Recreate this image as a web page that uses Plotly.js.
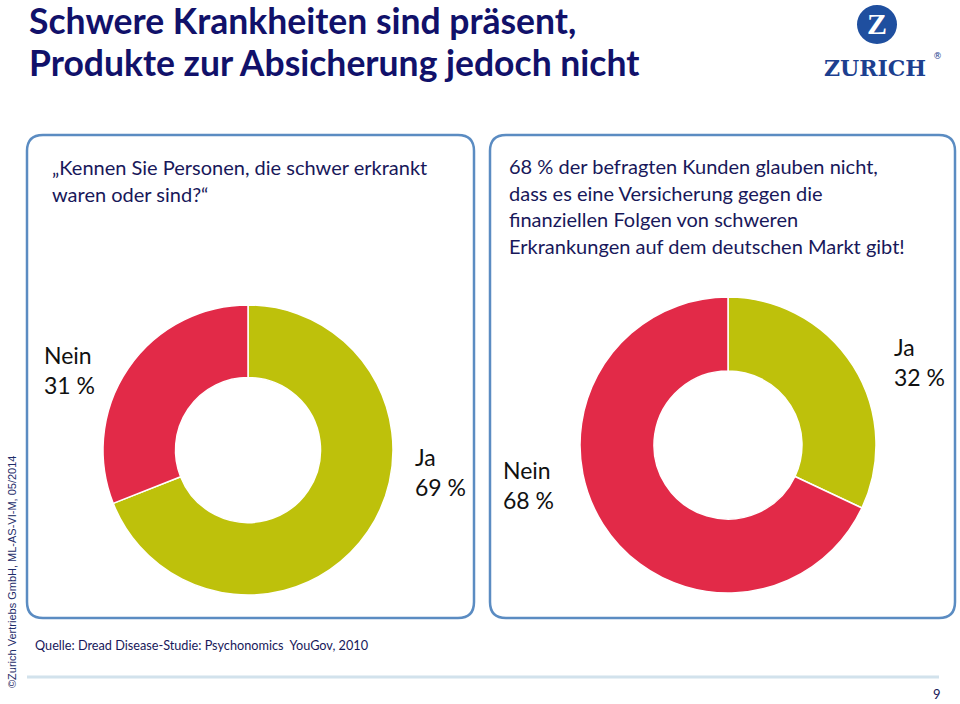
<!DOCTYPE html>
<html>
<head>
<meta charset="utf-8">
<script src="https://cdn.plot.ly/plotly-3.0.1.min.js"></script>
<style>html,body{margin:0;padding:0;background:#fff;}#chart{width:960px;height:704px;}</style>
</head>
<body>
<div id="chart"></div>
<script>
// ---- data ----
const answerLabels = ['Ja', 'Nein'];
const knownValues = [69, 31];      // "Kennen Sie Personen, die schwer erkrankt waren oder sind?"
const insuranceValues = [32, 68];  // glauben, dass es eine Versicherung gibt
const sliceColors = ['#bec10b', '#e22a48'];

const titleLines = ['Schwere Krankheiten sind präsent,', 'Produkte zur Absicherung jedoch nicht'];
const leftQuestion = ['„Kennen Sie Personen, die schwer erkrankt', 'waren oder sind?“'];
const rightStatement = ['68 % der befragten Kunden glauben nicht,', 'dass es eine Versicherung gegen die',
  'finanziellen Folgen von schweren', 'Erkrankungen auf dem deutschen Markt gibt!'];
const sourceText = 'Quelle: Dread Disease-Studie: Psychonomics  YouGov, 2010';
const copyrightText = '©Zurich Vertriebs GmbH, ML-AS-VI-M, 05/2014';
const pageNumber = '9';

// ---- helpers (pixel -> paper) ----
const W = 960, H = 704;
const X = p => p / W, Y = p => 1 - p / H;
function rrect(x0, y0, x1, y1, r) {
  return `M${X(x0 + r)},${Y(y0)} L${X(x1 - r)},${Y(y0)} Q${X(x1)},${Y(y0)} ${X(x1)},${Y(y0 + r)} ` +
    `L${X(x1)},${Y(y1 - r)} Q${X(x1)},${Y(y1)} ${X(x1 - r)},${Y(y1)} L${X(x0 + r)},${Y(y1)} ` +
    `Q${X(x0)},${Y(y1)} ${X(x0)},${Y(y1 - r)} L${X(x0)},${Y(y0 + r)} Q${X(x0)},${Y(y0)} ${X(x0 + r)},${Y(y0)} Z`;
}
function donut(values, cx, cy, r) {
  return {
    type: 'pie', values: values, labels: answerLabels, hole: 0.5, sort: false,
    direction: 'clockwise', rotation: 0, textinfo: 'none', hoverinfo: 'none', showlegend: false,
    marker: { colors: sliceColors, line: { color: '#ffffff', width: 1.5 } },
    domain: { x: [X(cx - r), X(cx + r)], y: [Y(cy + r), Y(cy - r)] }
  };
}
const navy = '#11116a';
const textNavy = '#18185a';
const body = 'Lato, "Open Sans", sans-serif';

const annotations = [];
function txt(text, px, py, opts) {
  annotations.push(Object.assign({
    text: text, x: X(px), y: Y(py), xref: 'paper', yref: 'paper', showarrow: false,
    xanchor: 'left', yanchor: 'middle', align: 'left',
    font: { family: body, size: 18, color: textNavy }
  }, opts || {}));
}

// title
txt(titleLines[0], 27, 21, { font: { family: body, size: 35.5, color: navy, weight: 'bold' } });
txt(titleLines[1], 27, 62.5, { font: { family: body, size: 35.5, color: navy, weight: 'bold' } });
// panel texts
leftQuestion.forEach((t, i) => txt(t, 50, 167 + i * 26.5, { font: { family: body, size: 20, color: textNavy } }));
rightStatement.forEach((t, i) => txt(t, 507, 166 + i * 26.7, { font: { family: body, size: 20, color: textNavy } }));

// donut labels from data
const lab = (i, vals) => `${answerLabels[i]}<br>${vals[i]} %`;
const lblFont = { family: body, size: 23, color: '#111111' };
txt(lab(1, knownValues), 42, 370, { font: lblFont });
txt(lab(0, knownValues), 413, 472, { font: lblFont });
txt(lab(0, insuranceValues), 892, 362, { font: lblFont });
txt(lab(1, insuranceValues), 501, 485, { font: lblFont });

// footer
txt(sourceText, 33, 645, { font: { family: body, size: 12.7, color: textNavy } });
txt(pageNumber, 937, 694, { xanchor: 'center', font: { family: body, size: 13, color: textNavy } });
txt(copyrightText, 12, 572, { xanchor: 'center', textangle: -90,
  font: { family: '"Liberation Sans", Arial, sans-serif', size: 11, color: '#1f2d6a' } });

// logo
txt('Z', 877, 24, { xanchor: 'center', font: { family: '"Liberation Serif", serif', size: 30, color: '#ffffff', weight: 'bold' } });
txt('ZURICH', 875, 68, { xanchor: 'center', font: { family: '"DejaVu Serif", serif', size: 22, color: '#1c3f8f', weight: 'bold' } });
txt('®', 937, 56, { xanchor: 'center', font: { family: '"DejaVu Sans", sans-serif', size: 9, color: '#1c3f8f' } });

const shapes = [
  { type: 'path', path: rrect(27, 135, 474, 618, 16), xref: 'paper', yref: 'paper', line: { color: '#5b8cc2', width: 2.5 }, fillcolor: 'rgba(0,0,0,0)' },
  { type: 'path', path: rrect(490, 135, 955, 618, 16), xref: 'paper', yref: 'paper', line: { color: '#5b8cc2', width: 2.5 }, fillcolor: 'rgba(0,0,0,0)' },
  { type: 'line', x0: X(27), x1: X(939), y0: Y(677), y1: Y(677), xref: 'paper', yref: 'paper', line: { color: '#d2e2ec', width: 3 } },
  { type: 'circle', x0: X(857), x1: X(897), y0: Y(44), y1: Y(5), xref: 'paper', yref: 'paper', fillcolor: '#1f4f9f', line: { width: 0 } }
];

const layout = {
  width: W, height: H, margin: { l: 0, r: 0, t: 0, b: 0 },
  paper_bgcolor: '#ffffff', plot_bgcolor: '#ffffff',
  showlegend: false, shapes: shapes, annotations: annotations
};

Plotly.newPlot('chart', [donut(knownValues, 248, 450, 145), donut(insuranceValues, 728, 445, 148)], layout,
  { displayModeBar: false, staticPlot: true });
</script>
</body>
</html>
